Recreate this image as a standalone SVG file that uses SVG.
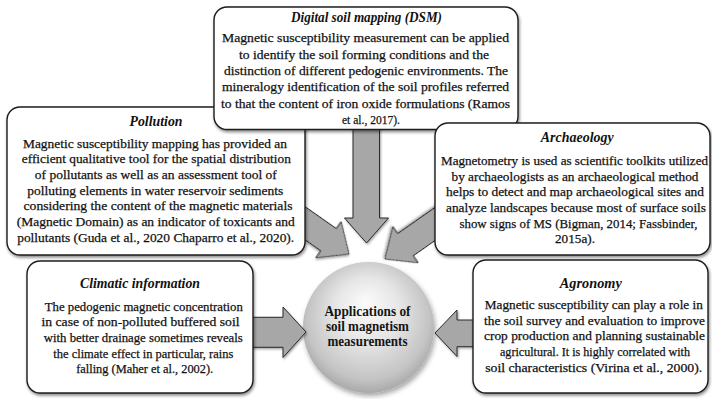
<svg xmlns="http://www.w3.org/2000/svg" width="712" height="399" viewBox="0 0 712 399">
  <defs>
    <style>
      .box { fill: #ffffff; stroke: #1c1c1c; stroke-width: 1.4; filter: url(#shadow); }
      .arrow { fill: #a7a7a7; stroke: #2a2a2a; stroke-width: 1; stroke-linejoin: miter; filter: url(#softshadow); }
      .title { font-family: "Liberation Serif", "Times New Roman", serif; font-size: 14px; font-weight: bold; font-style: italic; fill: #111; text-anchor: middle; }
      .body { font-family: "Liberation Serif", "Times New Roman", serif; font-size: 13.2px; fill: #111; stroke: #111; stroke-width: 0.25; text-anchor: middle; }
      .hub { font-family: "Liberation Serif", "Times New Roman", serif; font-size: 14px; font-weight: bold; fill: #151515; text-anchor: middle; }
    </style>
    <filter id="shadow" x="-10%" y="-10%" width="125%" height="130%">
      <feDropShadow dx="1" dy="2" stdDeviation="1.4" flood-color="#000" flood-opacity="0.45"/>
    </filter>
    <filter id="softshadow" x="-20%" y="-20%" width="150%" height="150%">
      <feDropShadow dx="1" dy="1.5" stdDeviation="1.2" flood-color="#000" flood-opacity="0.35"/>
    </filter>
    <filter id="orbshadow" x="-20%" y="-20%" width="150%" height="150%">
      <feDropShadow dx="1.5" dy="3" stdDeviation="2.5" flood-color="#000" flood-opacity="0.35"/>
    </filter>
    <radialGradient id="orb" cx="0.5" cy="0.45" r="0.55" fx="0.48" fy="0.3">
      <stop offset="0" stop-color="#fbfbfb"/>
      <stop offset="0.45" stop-color="#e6e6e6"/>
      <stop offset="0.85" stop-color="#c4c4c4"/>
      <stop offset="1" stop-color="#a9a9a9"/>
    </radialGradient>
  </defs>

  <!-- central hub -->
  <g id="hub">
    <circle cx="368.5" cy="327.5" r="65.5" fill="url(#orb)" filter="url(#orbshadow)"/>
    <text class="hub" x="367.5" y="315.7" textLength="86" lengthAdjust="spacingAndGlyphs">Applications of</text>
    <text class="hub" x="367.5" y="331" textLength="83" lengthAdjust="spacingAndGlyphs">soil magnetism</text>
    <text class="hub" x="367.5" y="346" textLength="80" lengthAdjust="spacingAndGlyphs">measurements</text>
  </g>

  <!-- block arrows pointing into the hub -->
  <g id="connectors">
    <!-- from DSM (down) -->
    <polygon class="arrow" points="353,126 379.5,126 379.5,218 388.5,218 366.5,243 344.5,218 353,218"/>
    <!-- from Pollution (down-right) -->
    <polygon class="arrow" transform="translate(349,254) rotate(35)" points="-120,-13.5 -25,-13.5 -25,-22 0,0 -25,22 -25,13.5 -120,13.5"/>
    <!-- from Archaeology (down-left) -->
    <polygon class="arrow" transform="translate(385,259) rotate(145)" points="-120,-13.5 -25,-13.5 -25,-22 0,0 -25,22 -25,13.5 -120,13.5"/>
    <!-- from Climatic information (right) -->
    <polygon class="arrow" points="250,317.3 283,317.3 283,307 306,332 283,357.5 283,347.3 250,347.3"/>
    <!-- from Agronomy (left) -->
    <polygon class="arrow" points="476,320 457,320 457,310 435,333 457,356.5 457,346.7 476,346.7"/>
  </g>

  <g id="pollution">
    <rect class="box" x="7" y="107" width="298" height="148" rx="13"/>
    <text class="title" x="156" y="126" textLength="53" lengthAdjust="spacingAndGlyphs">Pollution</text>
    <text class="body" x="155" y="147.7" textLength="264" lengthAdjust="spacingAndGlyphs">Magnetic susceptibility mapping has provided an</text>
    <text class="body" x="156.3" y="163.3" textLength="269" lengthAdjust="spacingAndGlyphs">efficient qualitative tool for the spatial distribution</text>
    <text class="body" x="155.8" y="179" textLength="242" lengthAdjust="spacingAndGlyphs">of pollutants as well as an assessment tool of</text>
    <text class="body" x="155.3" y="194.7" textLength="256" lengthAdjust="spacingAndGlyphs">polluting elements in water reservoir sediments</text>
    <text class="body" x="158" y="210.3" textLength="269" lengthAdjust="spacingAndGlyphs">considering the content of the magnetic materials</text>
    <text class="body" x="155.8" y="226" textLength="278" lengthAdjust="spacingAndGlyphs">(Magnetic Domain) as an indicator of toxicants and</text>
    <text class="body" x="155.7" y="241.7" textLength="277" lengthAdjust="spacingAndGlyphs">pollutants (Guda et al., 2020 Chaparro et al., 2020).</text>
  </g>

  <g id="dsm">
    <rect class="box" x="214" y="7" width="304" height="122.5" rx="13"/>
    <text class="title" x="366.5" y="21.7" textLength="151" lengthAdjust="spacingAndGlyphs">Digital soil mapping (DSM)</text>
    <text class="body" x="365.5" y="42.3" textLength="287" lengthAdjust="spacingAndGlyphs">Magnetic susceptibility measurement can be applied</text>
    <text class="body" x="364" y="58.6" textLength="250" lengthAdjust="spacingAndGlyphs">to identify the soil forming conditions and the</text>
    <text class="body" x="366" y="75" textLength="284" lengthAdjust="spacingAndGlyphs">distinction of different pedogenic environments. The</text>
    <text class="body" x="365.5" y="91.3" textLength="287" lengthAdjust="spacingAndGlyphs">mineralogy identification of the soil profiles referred</text>
    <text class="body" x="365.5" y="107.6" textLength="289" lengthAdjust="spacingAndGlyphs">to that the content of iron oxide formulations (Ramos</text>
    <text class="body" x="371" y="124" textLength="58" lengthAdjust="spacingAndGlyphs">et al., 2017).</text>
  </g>

  <g id="archaeology">
    <rect class="box" x="435" y="123" width="275" height="132" rx="13"/>
    <text class="title" x="577.3" y="141.7" textLength="73" lengthAdjust="spacingAndGlyphs">Archaeology</text>
    <text class="body" x="574.5" y="165" textLength="267" lengthAdjust="spacingAndGlyphs">Magnetometry is used as scientific toolkits utilized</text>
    <text class="body" x="575" y="180.7" textLength="247" lengthAdjust="spacingAndGlyphs">by archaeologists as an archaeological method</text>
    <text class="body" x="575" y="196.4" textLength="258" lengthAdjust="spacingAndGlyphs">helps to detect and map archaeological sites and</text>
    <text class="body" x="576" y="212" textLength="260" lengthAdjust="spacingAndGlyphs">analyze landscapes because most of surface soils</text>
    <text class="body" x="578.5" y="227.7" textLength="238" lengthAdjust="spacingAndGlyphs">show signs of MS (Bigman, 2014; Fassbinder,</text>
    <text class="body" x="575" y="243.3" textLength="40" lengthAdjust="spacingAndGlyphs">2015a).</text>
  </g>

  <g id="climatic-information">
    <rect class="box" x="27" y="261" width="226" height="132" rx="13"/>
    <text class="title" x="140" y="288.3" textLength="120" lengthAdjust="spacingAndGlyphs">Climatic information</text>
    <text class="body" x="143.8" y="310.7" textLength="198" lengthAdjust="spacingAndGlyphs">The pedogenic magnetic concentration</text>
    <text class="body" x="140.5" y="326.3" textLength="198" lengthAdjust="spacingAndGlyphs">in case of non-polluted buffered soil</text>
    <text class="body" x="143.3" y="342" textLength="199" lengthAdjust="spacingAndGlyphs">with better drainage sometimes reveals</text>
    <text class="body" x="143.3" y="357.7" textLength="180" lengthAdjust="spacingAndGlyphs">the climate effect in particular, rains</text>
    <text class="body" x="144.7" y="373.3" textLength="137" lengthAdjust="spacingAndGlyphs">falling (Maher et al., 2002).</text>
  </g>

  <g id="agronomy">
    <rect class="box" x="473" y="260" width="235" height="133" rx="13"/>
    <text class="title" x="590.8" y="288.3" textLength="62" lengthAdjust="spacingAndGlyphs">Agronomy</text>
    <text class="body" x="593.8" y="309" textLength="218" lengthAdjust="spacingAndGlyphs">Magnetic susceptibility can play a role in</text>
    <text class="body" x="594.5" y="324.7" textLength="221" lengthAdjust="spacingAndGlyphs">the soil survey and evaluation to improve</text>
    <text class="body" x="594.5" y="340.4" textLength="221" lengthAdjust="spacingAndGlyphs">crop production and planning sustainable</text>
    <text class="body" x="595" y="356" textLength="190" lengthAdjust="spacingAndGlyphs">agricultural. It is highly correlated with</text>
    <text class="body" x="593.7" y="371.7" textLength="217" lengthAdjust="spacingAndGlyphs">soil characteristics (Virina et al., 2000).</text>
  </g>
</svg>
